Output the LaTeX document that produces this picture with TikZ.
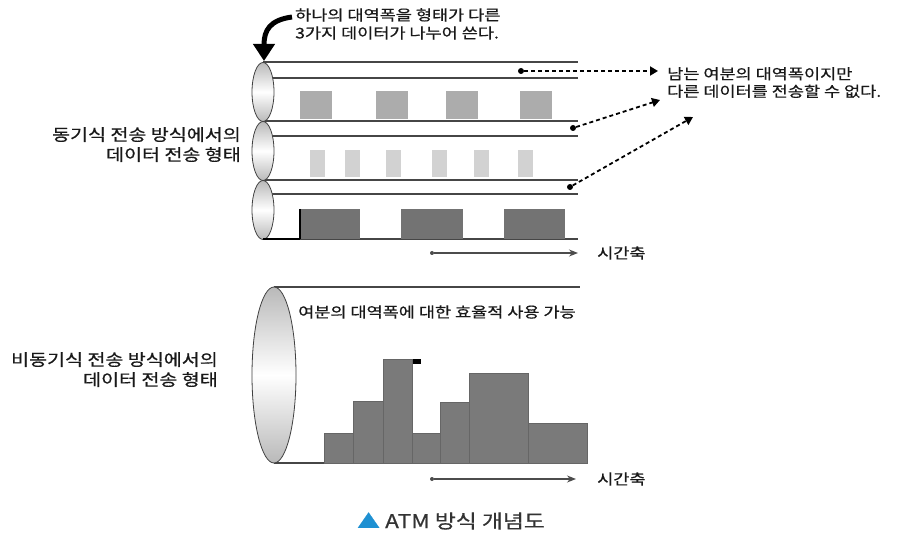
\documentclass[tikz,border=0pt]{standalone}
\usepackage{fontspec}
\setmainfont[FakeStretch=1.2, FakeBold=0.6]{Noto Sans CJK KR}
\usetikzlibrary{arrows.meta}

\definecolor{pipeline}{RGB}{70,70,70}
\definecolor{cellA}{RGB}{172,172,172}
\definecolor{cellB}{RGB}{210,210,210}
\definecolor{cellC}{RGB}{115,115,115}
\definecolor{barfill}{RGB}{122,122,122}
\definecolor{capblue}{RGB}{30,144,210}

\tikzset{
  txt/.style={font=\fontsize{14.6}{18}\selectfont, text=black!90, inner sep=0pt},
  side/.style={font=\fontsize{16.3}{20}\selectfont, text=black!90, inner sep=0pt, anchor=north east, align=right},
  pipe/.style={pipeline, line width=1.1pt},
  pipeend/.style={draw=black!75, line width=0.8pt, top color=gray!55, bottom color=gray!55, middle color=white},
  spot/.style={circle, fill=black, inner sep=0pt, minimum size=6pt},
  gap/.style={dash pattern=on 4pt off 3pt, line width=1.8pt, -{Triangle[length=8pt,width=9pt]}},
  timeline/.style={black!70, line width=1.2pt, -{Stealth[length=9pt,width=7pt]}},
  bar/.style={fill=barfill, draw=black!60, line width=0.6pt}
}

\begin{document}
\begin{tikzpicture}[x=1pt, y=-1pt]
\useasboundingbox (0,0) rectangle (897,540);
% Lines
\foreach \y in {62,78,121,136,180,194,239}
  \draw[pipe] (263,\y) -- (578,\y);
\draw[pipe] (274,287) -- (580,287);
\draw[pipe] (274,463) -- (587,463);
% Pipe ends
\foreach \c in {92,151,210}
  \draw[pipeend] (263,\c) ellipse [x radius=11pt, y radius=29.5pt];
\draw[pipeend] (274,375) ellipse [x radius=22pt, y radius=88pt];
% Synchronous cells
\foreach \x in {300,376,446,520}
  \fill[cellA] (\x,91) rectangle ++(32,28);
\foreach \x in {310,345,386,432,474,518}
  \fill[cellB] (\x,150) rectangle ++(15,27);
\foreach \x/\w in {300/60,401/62,504/61}
  \fill[cellC] (\x,209) rectangle ++(\w,30);
\draw[black, line width=2.5pt] (300,209) -- (300,239);
\draw[black, line width=1.8pt] (263,239) -- (300,239);
% Asynchronous cells
\foreach \a/\b/\t in {324/353/433, 353/383/401, 383/412/359, 412/440/433, 440/469/402, 469/528/373, 528/587/423}
  \draw[bar] (\a,463) rectangle (\b,\t);
\fill[black] (413,359) rectangle (421,364);
% Curved arrow
\draw[line width=5pt, -{Triangle[length=17pt,width=21pt]}] (292,17) .. controls (270,20) and (264,30) .. (264,61);
% Nodes
\node[txt, anchor=north west, align=left] (share) at (295,8) {하나의 대역폭을 형태가 다른\\3가지 데이터가 나누어 쓴다.};
\node[txt, anchor=north west, align=left, font=\fontsize{14.6}{17.5}\selectfont] (spare) at (667,67) {남는 여분의 대역폭이지만\\다른 데이터를 전송할 수 없다.};
\node[side] (sync) at (241,127) {동기식 전송 방식에서의\\데이터 전송 형태};
\node[side] (async) at (218,352) {비동기식 전송 방식에서의\\데이터 전송 형태};
\node[txt, anchor=west] (use) at (298,312) {여분의 대역폭에 대한 효율적 사용 가능};
\node[txt, anchor=west] (timeA) at (597,253) {시간축};
\node[txt, anchor=west] (timeB) at (597,479) {시간축};
\node[txt, anchor=west, font=\fontsize{19}{22}\selectfont, text=black!80] (caption) at (357,521) {{\color{capblue}▲} ATM 방식 개념도};
% Unused bandwidth
\node[spot] (dotA) at (521,71) {};
\node[spot] (dotB) at (573,128) {};
\node[spot] (dotC) at (570,187) {};
\coordinate (tipA) at (658,71);
\coordinate (tipB) at (660,100);
\coordinate (tipC) at (693,117);
\draw[gap] (dotA) -- (tipA);
\draw[gap] (dotB) -- (tipB);
\draw[gap] (dotC) -- (tipC);
% Time axes
\node[circle, fill=black!70, inner sep=0pt, minimum size=4pt] (startA) at (432,253) {};
\node[circle, fill=black!70, inner sep=0pt, minimum size=4pt] (startB) at (432,479) {};
\coordinate (endA) at (578,253);
\coordinate (endB) at (576,479);
\draw[timeline] (startA) -- (endA);
\draw[timeline] (startB) -- (endB);
\end{tikzpicture}
\end{document}
